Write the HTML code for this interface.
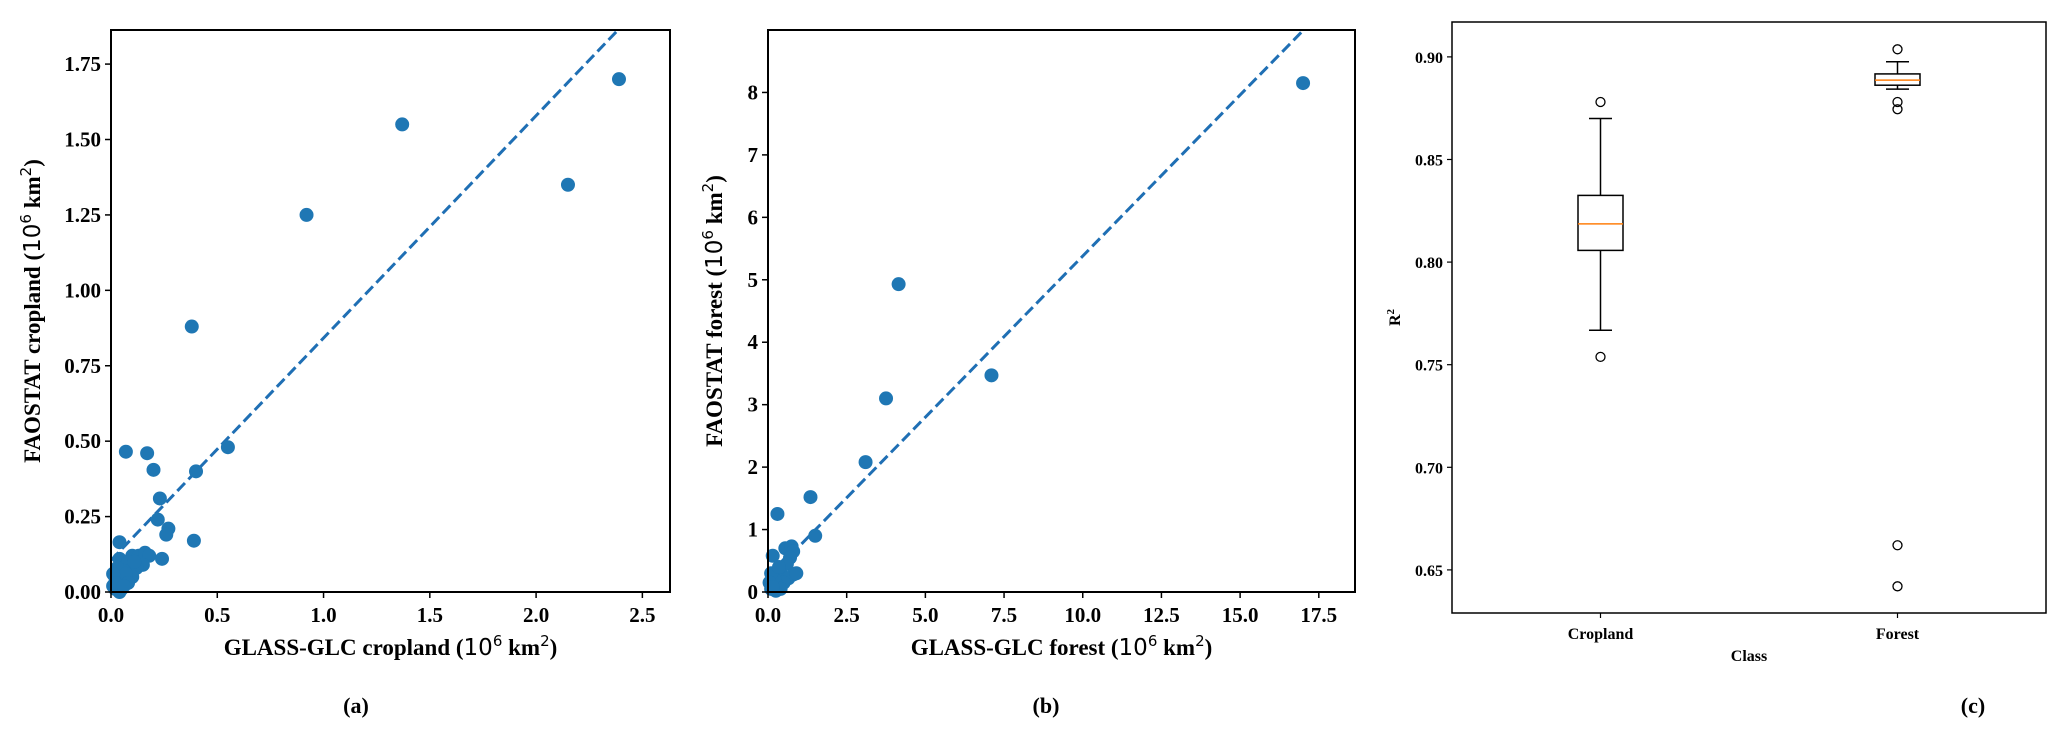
<!DOCTYPE html>
<html><head><meta charset="utf-8"><style>
html,body{margin:0;padding:0;background:#fff;}
svg{display:block;}
text{font-family:"Liberation Serif",serif;font-weight:bold;fill:#000;}
.m{font-family:"DejaVu Sans",sans-serif;font-weight:normal;}
</style></head><body>
<svg id="fig" width="2067" height="738" viewBox="0 0 2067 738" xmlns="http://www.w3.org/2000/svg"></svg>
<script>
// Panel (a) data
const cropX = [2.39,2.15,1.37,0.92,0.38,0.55,0.40,0.07,0.17,0.20,0.23,0.22,0.27,0.26,0.39,0.24,0.04,0.04,0.10,0.13,0.16,0.18,0.15,0.12,0.10,0.08,0.06,0.03,0.02,0.01,0.03,0.05,0.07,0.02,0.05,0.08,0.11,0.01,0.04,0.02,0.06];
const cropY = [1.70,1.35,1.55,1.25,0.88,0.48,0.40,0.465,0.46,0.405,0.31,0.24,0.21,0.19,0.17,0.11,0.165,0.11,0.12,0.12,0.13,0.12,0.09,0.08,0.05,0.10,0.07,0.08,0.05,0.02,0.03,0.04,0.06,0.01,0.01,0.03,0.10,0.06,0.00,0.03,0.02];
const cropTicksX = [0,0.5,1.0,1.5,2.0,2.5];
const cropTicksY = [0,0.25,0.5,0.75,1.0,1.25,1.5,1.75];
const cropFit = [0.737,0.105];
// Panel (b) data
const forX = [17.0,7.1,4.15,3.75,3.1,1.35,1.5,0.3,0.15,0.55,0.75,0.8,0.7,0.6,0.4,0.8,0.65,0.5,0.3,0.2,0.1,0.05,0.1,0.25,0.4,0.15,0.9,0.35];
const forY = [8.15,3.47,4.93,3.1,2.08,1.52,0.9,1.25,0.58,0.7,0.73,0.65,0.55,0.45,0.3,0.28,0.22,0.15,0.1,0.2,0.3,0.15,0.05,0.02,0.05,0.08,0.3,0.4];
const forTicksX = [0,2.5,5,7.5,10,12.5,15,17.5];
const forTicksY = [0,1,2,3,4,5,6,7,8];
const forFit = [0.516,0.22];
// Panel (c) data
const boxCats = ["Cropland","Forest"];
const boxLowW = [0.7668,0.8843];
const boxQ1 = [0.8057,0.8862];
const boxMed = [0.8186,0.8887];
const boxQ3 = [0.8325,0.8917];
const boxHighW = [0.870,0.8976];
const boxOut = [[0.878,0.7538],[0.9037,0.878,0.8745,0.662,0.642]];
const boxTicksY = [0.65,0.70,0.75,0.80,0.85,0.90];

const NS="http://www.w3.org/2000/svg";
const svg=document.getElementById('fig');
function el(tag,attrs,parent,txt){const e=document.createElementNS(NS,tag);for(const k in attrs)e.setAttribute(k,attrs[k]);if(txt!==undefined)e.textContent=txt;(parent||svg).appendChild(e);return e;}

function scatterPanel(id,L,R,T,B,xmax,ymax,xs,ys,tx,ty,fit,fmtX,fmtY,xlabelA,ylabelA,ylx,tag,tagx){
  const g=el('g',{});
  
  
  const sx=v=>L+v/xmax*(R-L), sy=v=>B-v/ymax*(B-T);
  // fit line
  const x0=0,y0=fit[1];let x1=xmax,y1=fit[0]*xmax+fit[1];
  if(y1>ymax){y1=ymax;x1=(ymax-fit[1])/fit[0];}
  const ln=el('line',{x1:sx(x0),y1:sy(y0),x2:sx(x1),y2:sy(y1),stroke:'#1f6fb4',"stroke-width":3,"stroke-dasharray":"11,5"},g);
  
  
  xs.forEach((v,i)=>{const c=el('circle',{cx:sx(v),cy:sy(ys[i]),r:7,fill:'#1f77b4'},g);
    
    });
  const fr=el('rect',{x:L,y:T,width:R-L,height:B-T,fill:'none',stroke:'#000',"stroke-width":2},g);
  
  
  tx.forEach(v=>{el('line',{x1:sx(v),x2:sx(v),y1:B,y2:B+6,stroke:'#000',"stroke-width":1.5},g);
    const t=el('text',{x:sx(v),y:B+30,"text-anchor":"middle","font-size":21},g,fmtX(v));
    
    });
  ty.forEach(v=>{el('line',{x1:L-6,x2:L,y1:sy(v),y2:sy(v),stroke:'#000',"stroke-width":1.5},g);
    const t=el('text',{x:L-10,y:sy(v)+7,"text-anchor":"end","font-size":21},g,fmtY(v));
    
    });
  const xl=el('text',{x:(L+R)/2,y:655,"text-anchor":"middle","font-size":23},g);
  
  
  xl.innerHTML=xlabelA+' (<tspan class="m">10</tspan><tspan class="m" dy="-9" font-size="15">6</tspan><tspan dy="9"> km</tspan><tspan class="m" dy="-9" font-size="15">2</tspan><tspan dy="9">)</tspan>';
  const yl=el('text',{x:0,y:0,"text-anchor":"middle","font-size":23,transform:`translate(${ylx},${(T+B)/2}) rotate(-90)`},g);
  
  
  yl.innerHTML=ylabelA+' (<tspan class="m">10</tspan><tspan class="m" dy="-9" font-size="15">6</tspan><tspan dy="9"> km</tspan><tspan class="m" dy="-9" font-size="15">2</tspan><tspan dy="9">)</tspan>';
  const tg=el('text',{x:tagx,y:713,"text-anchor":"middle","font-size":22},g,tag);
  
  
}
scatterPanel('cropland',111,670,30,592,2.63,1.863,cropX,cropY,cropTicksX,cropTicksY,cropFit,v=>v.toFixed(1),v=>v.toFixed(2),'GLASS-GLC cropland','FAOSTAT cropland',40,'(a)',356);
scatterPanel('forest',768,1355,30,592,18.65,9.0,forX,forY,forTicksX,forTicksY,forFit,v=>v.toFixed(1),v=>String(v),'GLASS-GLC forest','FAOSTAT forest',722,'(b)',1046);

// Panel c
(function(){
  const L=1452,R=2046,T=22,B=613,ymin=0.629,ymax=0.917;
  const g=el('g',{});
  
  
  const sx=i=>L+(i+0.5)/2*(R-L), sy=v=>B-(v-ymin)/(ymax-ymin)*(B-T);
  const hw=22.5,cw=11.5;
  boxCats.forEach((c,i)=>{
    const x=sx(i);
    const bg=el('g',{},g);
    
    
    el('line',{x1:x,x2:x,y1:sy(boxHighW[i]),y2:sy(boxQ3[i]),stroke:'#000',"stroke-width":1.5},bg);
    el('line',{x1:x,x2:x,y1:sy(boxQ1[i]),y2:sy(boxLowW[i]),stroke:'#000',"stroke-width":1.5},bg);
    el('line',{x1:x-cw,x2:x+cw,y1:sy(boxHighW[i]),y2:sy(boxHighW[i]),stroke:'#000',"stroke-width":1.5},bg);
    el('line',{x1:x-cw,x2:x+cw,y1:sy(boxLowW[i]),y2:sy(boxLowW[i]),stroke:'#000',"stroke-width":1.5},bg);
    el('rect',{x:x-hw,y:sy(boxQ3[i]),width:2*hw,height:sy(boxQ1[i])-sy(boxQ3[i]),fill:'none',stroke:'#000',"stroke-width":1.5},bg);
    el('line',{x1:x-hw,x2:x+hw,y1:sy(boxMed[i]),y2:sy(boxMed[i]),stroke:'#ff7f0e',"stroke-width":1.5},bg);
    boxOut[i].forEach(v=>{const o=el('circle',{cx:x,cy:sy(v),r:4.5,fill:'none',stroke:'#000',"stroke-width":1.3},bg);
      
      });
    el('line',{x1:x,x2:x,y1:B,y2:B+5,stroke:'#000',"stroke-width":1.2},g);
    const t=el('text',{x:x,y:B+26,"text-anchor":"middle","font-size":16},g,c);
    
    
  });
  const fr=el('rect',{x:L,y:T,width:R-L,height:B-T,fill:'none',stroke:'#000',"stroke-width":1.5},g);
  
  
  boxTicksY.forEach(v=>{el('line',{x1:L-5,x2:L,y1:sy(v),y2:sy(v),stroke:'#000',"stroke-width":1.2},g);
    const t=el('text',{x:L-9,y:sy(v)+6,"text-anchor":"end","font-size":16},g,v.toFixed(2));
    
    });
  const xl=el('text',{x:(L+R)/2,y:661,"text-anchor":"middle","font-size":16},g,'Class');
  
  
  const yl=el('text',{x:0,y:0,"text-anchor":"middle","font-size":16,transform:`translate(1400,${(T+B)/2}) rotate(-90)`},g);
  
  
  yl.innerHTML='R<tspan dy="-6" font-size="11">2</tspan>';
  const tg=el('text',{x:1973,y:713,"text-anchor":"middle","font-size":22},g,'(c)');
  
  
})();
</script>
</body></html>
